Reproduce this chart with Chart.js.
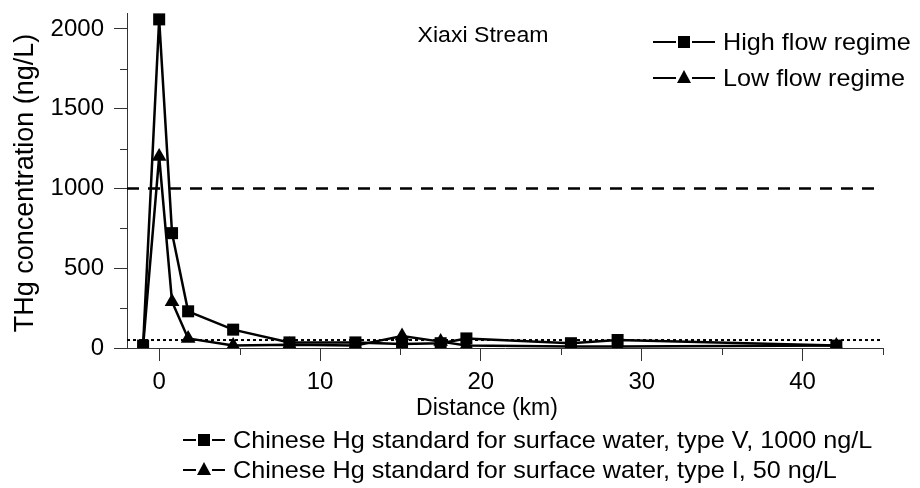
<!DOCTYPE html>
<html>
<head>
<meta charset="utf-8">
<script src="https://cdn.jsdelivr.net/npm/chart.js@4"></script>
<style>
  html, body { margin: 0; padding: 0; background: #fff; }
  #wrap { width: 920px; height: 488px; }
</style>
</head>
<body>
<div id="wrap"><canvas id="c" width="920" height="488"></canvas></div>
<script>
// distance downstream (km)
const highX = [-1, 0, 0.8, 1.8, 4.6, 8.1, 12.2, 15.1, 17.5, 19.1, 25.6, 28.5, 42.1];
const highY = [15, 2060, 720, 230, 115, 35, 35, 25, 30, 60, 30, 50, 15];
const lowX = [-1, 0, 0.8, 1.8, 4.6, 8.1, 12.2, 15.1, 17.5, 19.1, 25.6, 28.5, 42.1];
const lowY = [10, 1200, 290, 60, 15, 20, 15, 75, 40, 15, 10, 10, 15];

const xRange = [-2, 45];
const yRange = [0, 2100];
const xTicks = [0, 10, 20, 30, 40];
const yTicks = [0, 500, 1000, 1500, 2000];
const xMinor = [5, 15, 25, 35, 45];
const yMinor = [250, 750, 1250, 1750];

const typeV = 1000;   // ng/L
const typeI = 50;     // ng/L

const FONT = 'Liberation Sans, Arial, sans-serif';

function pts(xs, ys) {
  return xs.map((x, i) => ({ x: x, y: ys[i] }));
}

// text slightly wider than plain Arial, like the source figure
function wideText(ctx, text, x, y, size, align, sx) {
  ctx.save();
  ctx.font = size + 'px ' + FONT;
  ctx.textBaseline = 'middle';
  ctx.textAlign = align;
  ctx.translate(x, y);
  ctx.scale(sx, 1);
  ctx.fillText(text, 0, 0);
  ctx.restore();
}

function drawMarker(ctx, style, x, y) {
  ctx.beginPath();
  if (style === 'rect') {
    ctx.rect(x - 6, y - 6, 12, 12);
  } else {
    ctx.moveTo(x, y - 8);
    ctx.lineTo(x + 7, y + 5);
    ctx.lineTo(x - 7, y + 5);
    ctx.closePath();
  }
  ctx.fill();
}

function legendRow(ctx, x, y, seg, style, text) {
  ctx.save();
  ctx.strokeStyle = '#000';
  ctx.fillStyle = '#000';
  ctx.lineWidth = 2;
  ctx.beginPath();
  ctx.moveTo(x, y); ctx.lineTo(x + seg, y);
  ctx.moveTo(x + seg + 16, y); ctx.lineTo(x + 2 * seg + 16, y);
  ctx.stroke();
  drawMarker(ctx, style, x + seg + 8, y);
  wideText(ctx, text, x + 2 * seg + 24, y + 1, 24, 'left', 1.05);
  ctx.restore();
}

const extras = {
  id: 'extras',
  afterDraw(chart) {
    const ctx = chart.ctx;
    const xs = chart.scales.x, ys = chart.scales.y;
    ctx.save();
    ctx.strokeStyle = '#333';
    ctx.lineWidth = 1;
    ctx.beginPath();
    xMinor.forEach(v => {
      const px = Math.round(xs.getPixelForValue(v)) + 0.5;
      ctx.moveTo(px, ys.bottom); ctx.lineTo(px, ys.bottom + 7);
    });
    yMinor.forEach(v => {
      const py = Math.round(ys.getPixelForValue(v)) + 0.5;
      ctx.moveTo(xs.left, py); ctx.lineTo(xs.left - 7, py);
    });
    ctx.stroke();

    ctx.fillStyle = '#000';
    wideText(ctx, 'Xiaxi Stream', 483, 36, 22, 'center', 1.05);
    wideText(ctx, 'Distance (km)', 487, 409, 23, 'center', 1.0);

    ctx.save();
    ctx.translate(26, 183);
    ctx.rotate(-Math.PI / 2);
    ctx.font = '27px ' + FONT;
    ctx.textAlign = 'center';
    ctx.textBaseline = 'middle';
    ctx.fillText('THg concentration (ng/L)', 0, 0);
    ctx.restore();
    ctx.restore();

    legendRow(ctx, 653, 42, 23, 'rect', 'High flow regime');
    legendRow(ctx, 653, 78, 23, 'triangle', 'Low flow regime');
    legendRow(ctx, 183, 440, 13, 'rect', 'Chinese Hg standard for surface water, type V, 1000 ng/L');
    legendRow(ctx, 183, 470, 13, 'triangle', 'Chinese Hg standard for surface water, type I, 50 ng/L');
  }
};

const config = {
  type: 'line',
  data: {
    datasets: [
      {
        label: 'High flow regime',
        data: pts(highX, highY),
        borderColor: '#000',
        backgroundColor: '#000',
        borderWidth: 2.5,
        pointStyle: 'rect',
        pointRadius: 8.5,
        pointBorderWidth: 0,
        tension: 0
      },
      {
        label: 'Low flow regime',
        data: pts(lowX, lowY),
        borderColor: '#000',
        backgroundColor: '#000',
        borderWidth: 2.5,
        pointStyle: 'triangle',
        pointRadius: 8.5,
        pointBorderWidth: 0,
        tension: 0
      },
      {
        label: 'Chinese Hg standard for surface water, type V, 1000 ng/L',
        data: pts(xRange, [typeV, typeV]),
        borderColor: '#000',
        borderWidth: 2.5,
        borderDash: [12, 9],
        pointRadius: 0
      },
      {
        label: 'Chinese Hg standard for surface water, type I, 50 ng/L',
        data: pts(xRange, [typeI, typeI]),
        borderColor: '#000',
        borderWidth: 2,
        borderDash: [3, 3],
        pointRadius: 0
      }
    ]
  },
  options: {
    responsive: false,
    animation: false,
    layout: { padding: { top: 13, right: 37, left: 0, bottom: 0 } },
    plugins: {
      legend: { display: false },
      tooltip: { enabled: false }
    },
    scales: {
      x: {
        type: 'linear',
        min: xRange[0],
        max: xRange[1],
        afterBuildTicks: s => { s.ticks = xTicks.map(v => ({ value: v })); },
        afterFit: s => { s.height = 140; s.paddingLeft = 0; s.paddingRight = 0; },
        grid: { drawOnChartArea: false, tickLength: 13, color: '#333', lineWidth: 1 },
        border: { display: true, color: '#333', width: 1 },
        ticks: {
          color: '#000', font: { family: FONT, size: 24 }, padding: 7, maxRotation: 0,
          callback: v => String(v)
        }
      },
      y: {
        type: 'linear',
        min: yRange[0],
        max: yRange[1],
        afterBuildTicks: s => { s.ticks = yTicks.map(v => ({ value: v })); },
        afterFit: s => { s.width = 127; s.paddingTop = 0; s.paddingBottom = 0; },
        grid: { drawOnChartArea: false, tickLength: 13, color: '#333', lineWidth: 1 },
        border: { display: true, color: '#333', width: 1 },
        ticks: {
          color: '#000', font: { family: FONT, size: 24 }, padding: 10,
          callback: v => String(v)
        }
      }
    }
  },
  plugins: [extras]
};

new Chart(document.getElementById('c'), config);
</script>
</body>
</html>
